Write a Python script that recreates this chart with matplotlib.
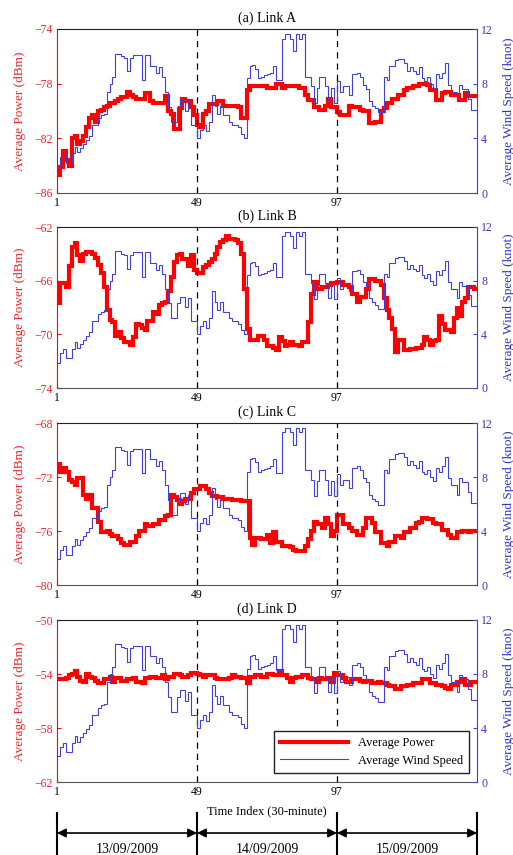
import numpy as np
import matplotlib
matplotlib.use("Agg")
import matplotlib.pyplot as plt
from matplotlib.transforms import blended_transform_factory
from matplotlib.lines import Line2D

plt.rcParams['font.family'] = ['Liberation Serif', 'DejaVu Serif']

# ---------------- data ----------------
wind = [1.9, 2.6, 2.9, 2.2, 2.2, 2.9, 3.4, 3.0, 3.3, 3.6,
        3.9, 4.2, 5.0, 5.0, 5.5, 5.7, 5.8, 7.4, 8.0, 8.5,
        10.2, 10.2, 10.0, 9.9, 8.9, 9.9, 10.1, 10.1, 10.1, 8.3,
        10.1, 10.1, 9.3, 9.3, 8.8, 9.2, 8.5, 7.4, 6.3, 5.2,
        5.2, 6.3, 6.8, 6.8, 6.0, 6.7, 5.0, 5.0, 4.0, 4.6,
        5.0, 4.5, 5.2, 7.2, 6.4, 5.8, 6.4, 5.7, 5.7, 5.2,
        5.0, 5.0, 4.8, 4.3, 4.0, 8.4, 9.3, 9.4, 9.1, 8.4,
        8.5, 8.6, 8.7, 8.8, 9.3, 8.3, 8.3, 11.3, 11.6, 11.6,
        11.3, 10.4, 11.6, 11.3, 11.6, 8.5, 8.5, 7.8, 6.6, 7.7,
        8.5, 8.5, 7.8, 6.7, 7.7, 6.6, 8.2, 7.4, 7.8, 7.8,
        7.2, 8.7, 8.7, 8.8, 8.5, 7.9, 7.6, 6.7, 6.4, 6.2,
        5.9, 5.9, 8.5, 8.3, 9.3, 9.3, 9.7, 9.8, 9.8, 9.5,
        8.9, 9.2, 8.9, 8.7, 9.2, 8.4, 8.2, 8.5, 8.0, 7.7,
        8.7, 8.4, 8.8, 9.5, 7.9, 7.4, 7.4, 6.7, 7.9, 7.6,
        7.6, 6.9, 6.1, 6.1]

power_a = [-84.7, -84.1, -82.9, -83.6, -84.0, -82.0, -81.8, -82.4, -82.2, -81.8,
           -81.2, -80.5, -80.3, -80.8, -80.0, -79.9, -79.7, -79.6, -79.4, -79.4,
           -79.3, -79.1, -79.0, -79.0, -78.6, -78.8, -79.0, -79.1, -79.1, -79.1,
           -78.7, -78.7, -79.3, -79.4, -79.4, -79.4, -79.4, -78.9, -80.0, -80.2,
           -81.3, -81.3, -79.8, -79.1, -79.3, -79.3, -79.7, -80.3, -81.0, -81.2,
           -80.2, -80.0, -79.5, -79.5, -79.5, -79.3, -79.3, -79.6, -79.6, -79.6,
           -79.6, -79.6, -79.7, -80.5, -80.5, -78.5, -78.2, -78.2, -78.2, -78.2,
           -78.2, -78.2, -78.3, -78.3, -78.3, -78.0, -78.0, -78.3, -78.2, -78.2,
           -78.2, -78.2, -78.2, -78.3, -78.3, -78.8, -79.2, -79.2, -79.7, -79.7,
           -79.9, -79.9, -79.6, -79.1, -79.7, -79.7, -80.1, -80.3, -80.3, -80.3,
           -79.6, -79.7, -79.7, -79.7, -79.9, -80.0, -80.0, -80.9, -80.9, -80.8,
           -80.8, -80.0, -79.8, -79.4, -79.4, -79.1, -79.1, -78.8, -78.8, -78.5,
           -78.3, -78.3, -78.2, -78.2, -78.0, -78.0, -78.0, -78.1, -78.5, -78.5,
           -79.2, -79.2, -78.7, -78.6, -78.6, -78.8, -78.8, -78.8, -79.2, -79.2,
           -78.7, -78.9, -78.9, -78.9]

power_b = [-67.7, -66.2, -66.2, -66.5, -64.9, -63.5, -63.2, -64.1, -64.5, -64.0,
           -63.9, -63.9, -64.0, -64.3, -64.8, -65.4, -66.5, -68.2, -68.9, -69.1,
           -70.1, -69.8, -70.3, -70.6, -70.6, -70.8, -70.2, -69.2, -69.3, -69.5,
           -69.7, -69.0, -69.0, -68.3, -68.5, -67.8, -67.7, -67.6, -66.8, -65.7,
           -64.6, -64.1, -64.0, -64.4, -64.4, -64.9, -64.1, -65.2, -65.4, -65.4,
           -65.0, -64.8, -64.6, -64.4, -64.0, -63.5, -63.1, -63.0, -62.7, -62.9,
           -62.9, -63.0, -63.2, -64.0, -66.6, -69.6, -70.4, -70.4, -70.4, -70.1,
           -70.1, -70.4, -70.9, -70.9, -71.0, -71.2, -70.2, -70.5, -70.9, -70.8,
           -70.6, -70.8, -70.8, -70.9, -70.6, -70.6, -69.1, -67.0, -66.1, -66.6,
           -66.6, -66.5, -66.5, -66.3, -66.2, -66.2, -66.1, -66.1, -66.3, -66.3,
           -66.5, -67.0, -67.0, -67.6, -67.2, -67.2, -66.6, -65.9, -65.9, -66.0,
           -66.0, -66.3, -67.3, -68.2, -68.8, -69.6, -71.3, -70.4, -70.4, -71.2,
           -71.2, -71.1, -71.1, -71.0, -71.0, -70.8, -70.2, -70.4, -70.8, -70.5,
           -70.4, -68.6, -69.2, -69.7, -69.7, -69.8, -68.8, -68.0, -68.6, -67.6,
           -67.3, -66.5, -66.5, -66.6]

power_c = [-71.0, -71.6, -71.3, -71.6, -72.2, -72.4, -72.6, -72.1, -72.1, -73.3,
           -73.6, -73.3, -74.3, -74.3, -75.3, -76.1, -76.1, -76.0, -76.2, -76.4,
           -76.4, -76.6, -76.9, -77.0, -77.0, -76.8, -76.8, -76.4, -76.0, -76.0,
           -75.5, -75.6, -75.6, -75.5, -75.5, -75.2, -75.2, -74.9, -74.8, -73.3,
           -73.5, -73.7, -74.0, -73.8, -73.6, -73.6, -73.2, -72.9, -72.9, -72.7,
           -72.7, -72.9, -73.2, -73.4, -73.4, -73.5, -73.5, -73.6, -73.6, -73.6,
           -73.7, -73.7, -73.7, -73.8, -73.8, -73.8, -76.5, -77.0, -76.5, -76.5,
           -76.6, -76.6, -76.3, -76.9, -76.1, -76.8, -76.8, -77.1, -77.1, -77.1,
           -77.2, -77.4, -77.5, -77.5, -77.5, -77.1, -76.6, -76.0, -75.3, -75.5,
           -75.5, -75.8, -75.0, -75.5, -76.4, -76.0, -74.8, -74.8, -75.5, -75.5,
           -75.8, -76.0, -76.0, -76.3, -76.3, -75.8, -75.0, -75.0, -75.4, -76.1,
           -76.1, -76.9, -76.9, -77.1, -76.8, -76.8, -76.4, -76.4, -76.5, -76.1,
           -76.1, -75.8, -75.8, -75.4, -75.3, -75.0, -75.0, -75.1, -75.1, -75.4,
           -75.5, -75.5, -75.9, -75.9, -76.3, -76.5, -76.5, -76.1, -76.1, -76.0,
           -76.0, -76.1, -76.0, -76.0]

power_d = [-54.4, -54.4, -54.4, -54.3, -54.1, -54.0, -53.8, -54.2, -54.5, -54.6,
           -54.0, -54.2, -54.3, -54.5, -54.7, -54.7, -54.4, -54.4, -54.2, -54.6,
           -54.3, -54.3, -54.5, -54.5, -54.4, -54.4, -54.3, -54.6, -54.6, -54.7,
           -54.3, -54.3, -54.2, -54.2, -54.3, -54.3, -54.1, -54.4, -54.2, -54.2,
           -54.0, -54.0, -54.1, -54.2, -54.2, -54.1, -53.9, -53.9, -54.0, -54.1,
           -54.2, -54.1, -54.1, -54.1, -54.3, -54.4, -54.4, -54.4, -54.4, -54.3,
           -54.1, -54.2, -54.2, -54.3, -54.3, -54.7, -54.2, -54.2, -54.1, -54.1,
           -54.2, -54.2, -54.0, -54.0, -54.1, -54.1, -53.8, -54.1, -54.1, -54.3,
           -54.6, -54.3, -54.2, -54.2, -54.1, -54.1, -54.3, -54.4, -54.4, -54.6,
           -54.3, -54.4, -54.4, -54.3, -54.6, -53.9, -54.1, -54.1, -54.3, -54.6,
           -54.6, -54.4, -54.4, -54.4, -54.5, -54.6, -54.5, -54.5, -54.7, -54.7,
           -54.6, -54.7, -54.7, -54.8, -54.9, -54.9, -55.1, -55.1, -54.9, -54.9,
           -54.8, -54.8, -54.7, -54.7, -54.7, -54.4, -54.4, -54.4, -54.7, -54.7,
           -54.8, -54.8, -54.9, -55.0, -55.1, -54.8, -54.8, -54.6, -54.6, -54.4,
           -54.8, -54.8, -54.6, -54.6]

titles = ['(a) Link A', '(b) Link B', '(c) Link C', '(d) Link D']
powers = [power_a, power_b, power_c, power_d]
power_ticks = [[-86, -82, -78, -74], [-74, -70, -66, -62],
               [-80, -76, -72, -68], [-62, -58, -54, -50]]
wind_ticks = [0, 4, 8, 12]
x_ticks = [1, 49, 97]
day_bounds = [1, 49, 97, 145]
day_labels = ['13/09/2009', '14/09/2009', '15/09/2009']

# ---------------- style ----------------
RED = '#ff0000'
RED_TXT = '#e8282a'
BLUE = '#4040d8'
BLUE_TXT = '#3333cc'

W, H = 513, 855
fig = plt.figure(figsize=(W / 100, H / 100), dpi=100)

def fx(px):
    return px / W

def fy(py):
    return 1 - py / H

panel_px = [(29, 193), (227, 388), (423, 585), (620, 782)]
left_px, right_px = 57, 477

edges = np.arange(1, len(wind) + 2)

for i, (top, bot) in enumerate(panel_px):
    ax = fig.add_axes([fx(left_px), fy(bot), fx(right_px - left_px), (bot - top) / H])
    ax2 = ax.twinx()
    pw = powers[i]
    ax.stairs(pw, edges, baseline=None, color=RED, lw=3.0)
    ax2.stairs(wind, edges, baseline=None, color=BLUE, lw=0.8)
    for xv in [49, 97]:
        ax.axvline(xv, color='k', ls=(0, (5, 4)), lw=0.9)
    ax.set_xlim(1, 145)
    ax.set_ylim(power_ticks[i][0], power_ticks[i][-1])
    ax.set_yticks(power_ticks[i])
    ax2.set_ylim(0, 12)
    ax2.set_yticks(wind_ticks)
    ax.set_xticks(x_ticks)
    ax.set_xticklabels([str(t) for t in x_ticks])

    ax.tick_params(axis='y', direction='in', colors=RED, labelcolor=RED_TXT,
                   labelsize=8.5, length=3, pad=3)
    ax.tick_params(axis='x', direction='in', length=3, labelsize=8.5, pad=3)
    ax2.tick_params(axis='y', direction='in', colors=BLUE, labelcolor=BLUE_TXT,
                    labelsize=8.5, length=3, pad=3)

    ax.spines['left'].set_color(RED)
    ax.spines['right'].set_visible(False)
    ax.spines['top'].set_color('#222222')
    ax.spines['bottom'].set_color('#555555')
    ax2.spines['left'].set_visible(False)
    ax2.spines['top'].set_visible(False)
    ax2.spines['bottom'].set_visible(False)
    ax2.spines['right'].set_color(BLUE)

    ax.set_ylabel('Average Power (dBm)', color=RED_TXT, fontsize=9.5, labelpad=6)
    ax2.set_ylabel('Average Wind Speed (knot)', color=BLUE_TXT, fontsize=9.5, labelpad=7)
    ax.set_title(titles[i], fontsize=10, pad=5)

    if i == 3:
        ax.set_xlabel('Time Index (30-minute)', fontsize=9, labelpad=5)
        handles = [Line2D([], [], color=RED, lw=3.0), Line2D([], [], color=BLUE, lw=0.8)]
        leg = ax2.legend(handles, ['Average Power', 'Average Wind Speed'],
                         loc='lower right', bbox_to_anchor=(0.981, 0.056),
                         borderaxespad=0,
                         fontsize=9, frameon=True, fancybox=False,
                         edgecolor='#222222', framealpha=1, handlelength=5.4,
                         borderpad=0.5, labelspacing=0.45)
        leg.get_frame().set_linewidth(1.0)
        axd = ax

# ---------------- day annotations ----------------
trans = blended_transform_factory(axd.transData, fig.transFigure)
for xb in day_bounds:
    fig.add_artist(Line2D([xb, xb], [fy(813), fy(855)], transform=trans,
                          color='k', lw=1.5))
y_arr = fy(833)
for j, lab in enumerate(day_labels):
    a, b = day_bounds[j], day_bounds[j + 1]
    axd.annotate('', xy=(b, y_arr), xytext=(a, y_arr), xycoords=trans,
                 textcoords=trans, annotation_clip=False,
                 arrowprops=dict(arrowstyle='<|-|>', color='k', lw=1.2,
                                 shrinkA=0, shrinkB=0, mutation_scale=13))
    axd.text((a + b) / 2, fy(849), lab, transform=trans, ha='center',
             va='center', fontsize=10)

fig.savefig('out.png', dpi=100)
